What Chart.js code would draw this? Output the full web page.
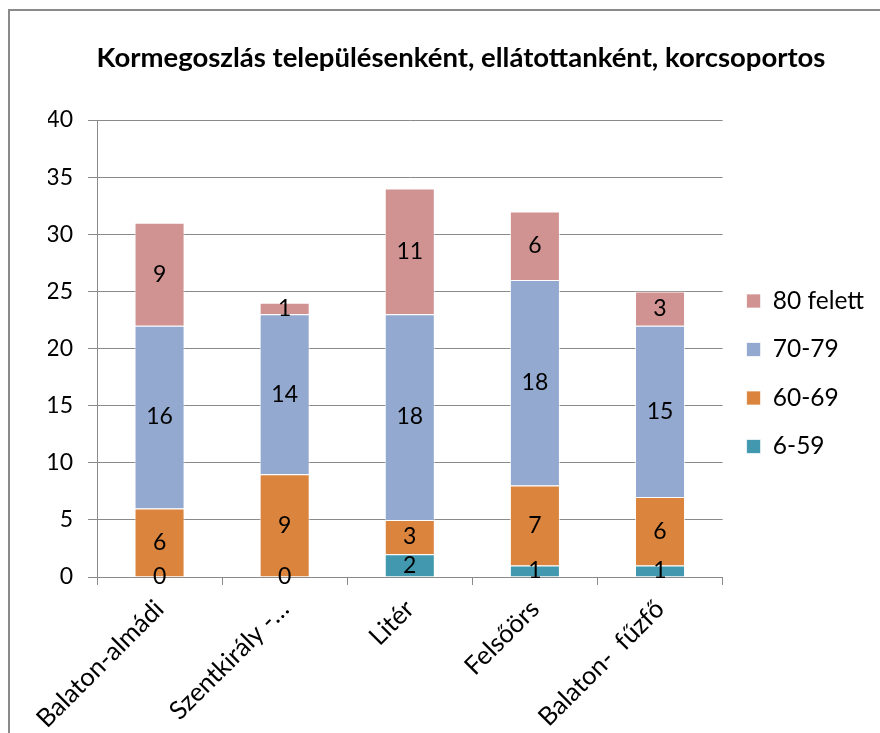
<!DOCTYPE html>
<html>
<head>
<meta charset="utf-8">
<script src="https://cdn.jsdelivr.net/npm/chart.js@4"></script>
<style>
  body { margin: 0; background: #fff; }
  #wrap { position: relative; width: 880px; height: 733px; overflow: hidden; }
  #frame { position: absolute; left: 8px; top: 9px; width: 2000px; height: 2000px;
           border-left: 2px solid #8a8a8a; border-top: 2px solid #8a8a8a; pointer-events: none; }
</style>
</head>
<body>
<div id="wrap">
  <canvas id="chart" width="880" height="733"></canvas>
  <div id="frame"></div>
</div>
<script>
// adatok
const categories = ['Balaton-almádi', 'Szentkirály -…', 'Litér', 'Felsőörs', 'Balaton-  fűzfő'];
const seriesNames = ['6-59', '60-69', '70-79', '80 felett'];
const age6to59 = [0, 0, 2, 1, 1];
const age60to69 = [6, 9, 3, 7, 6];
const age70to79 = [16, 14, 18, 18, 15];
const age80plus = [9, 1, 11, 6, 3];
const yMin = 0, yMax = 40, yStep = 5;

const colors = ['#4198AF', '#DB843D', '#93A9CF', '#D19392'];
const FONT = 'Lato';
const gridGray = '#8a8a8a';

// értékek kiírása a szegmensek közepére
const valueLabels = {
    id: 'valueLabels',
    afterDatasetsDraw(chart) {
        const ctx = chart.ctx;
        ctx.save();
        ctx.font = '23px ' + FONT;
        ctx.fillStyle = '#000';
        ctx.textAlign = 'center';
        ctx.textBaseline = 'middle';
        chart.data.datasets.forEach((ds, i) => {
            const meta = chart.getDatasetMeta(i);
            meta.data.forEach((bar, j) => {
                const y = (bar.y + bar.base) / 2;
                ctx.fillText(String(ds.data[j]), bar.x, y);
            });
        });
        ctx.restore();
    }
};

const allSeries = [age6to59, age60to69, age70to79, age80plus];

new Chart(document.getElementById('chart'), {
    type: 'bar',
    data: {
        labels: categories,
        datasets: allSeries.map((vals, i) => ({
            label: seriesNames[i],
            data: vals,
            backgroundColor: colors[i],
            borderColor: 'rgba(255,255,255,0.7)',
            borderWidth: 1,
            barPercentage: 0.5,
            categoryPercentage: 0.8
        }))
    },
    options: {
        responsive: false,
        animation: false,
        layout: { padding: { left: 48, right: 6, top: 0, bottom: 0 } },
        scales: {
            x: {
                stacked: true,
                grid: { drawOnChartArea: false, drawTicks: true, tickLength: 8, color: gridGray },
                border: { display: true, color: gridGray, width: 1 },
                ticks: {
                    autoSkip: false, minRotation: 45, maxRotation: 45, padding: 9,
                    color: '#000', font: { family: FONT, size: 25.5 }
                },
                afterFit: s => { s.height = 156; }
            },
            y: {
                stacked: true,
                min: yMin, max: yMax,
                grid: { color: gridGray, tickLength: 9 },
                border: { display: true, color: gridGray, width: 1 },
                ticks: { stepSize: yStep, padding: 15, color: '#000', font: { family: FONT, size: 23 } },
                afterFit: s => { s.width = 49; }
            }
        },
        plugins: {
            title: {
                display: true,
                text: 'Kormegoszlás településenként, ellátottanként, korcsoportos',
                color: '#000',
                font: { family: FONT, size: 27.5, weight: 'bold' },
                padding: { top: 42, bottom: 45 }
            },
            legend: {
                position: 'right',
                reverse: true,
                title: { display: true, text: '', font: { size: 10, lineHeight: 1 }, padding: { top: 2, bottom: 2.5 } },
                labels: {
                    boxWidth: 14, boxHeight: 14, padding: 24,
                    color: '#000', font: { family: FONT, size: 24.5 }
                }
            },
            tooltip: { enabled: false }
        }
    },
    plugins: [valueLabels]
});
</script>
</body>
</html>
